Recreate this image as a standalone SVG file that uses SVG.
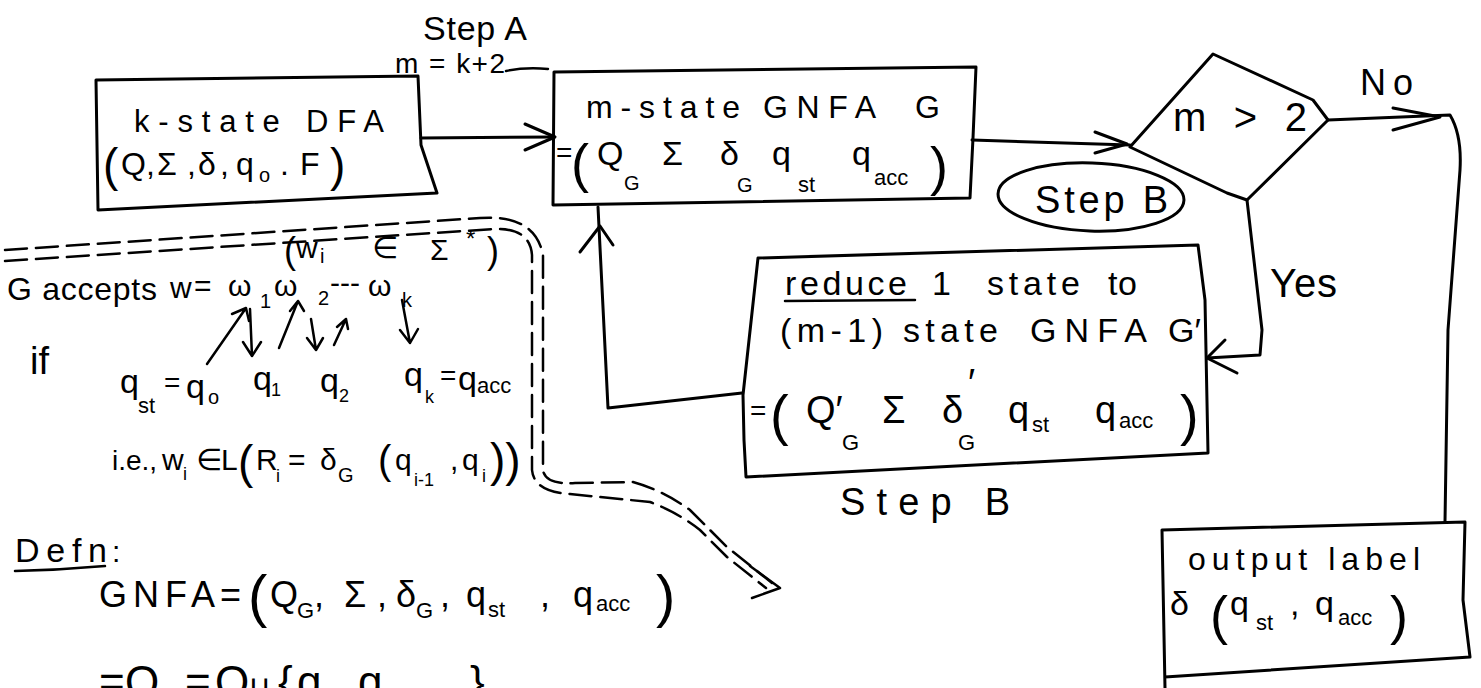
<svg xmlns="http://www.w3.org/2000/svg" width="1481" height="688" viewBox="0 0 1481 688">
<style>
.t{font-family:"Liberation Sans","DejaVu Sans",Arial,sans-serif;fill:#000}
.ln{fill:none;stroke:#000;stroke-width:3;stroke-linecap:round;stroke-linejoin:round}
.th{fill:none;stroke:#000;stroke-width:2.5;stroke-linecap:round;stroke-linejoin:round}
.dash{fill:none;stroke:#000;stroke-width:2.5;stroke-dasharray:22 9;stroke-linecap:round}
</style>
<rect width="1481" height="688" fill="#fff"/>

<g id="dfa">
<path class="ln" d="M96,80 L418,76 L421,145 L437,193 L98,210 Z"/>
<text class="t" x="134" y="132" font-size="31" textLength="250" lengthAdjust="spacing">k-state DFA</text>
<text class="t" font-size="32">
<tspan x="103" y="181" font-size="46">(</tspan><tspan x="121" y="175">Q</tspan><tspan x="146" y="175">,</tspan><tspan x="157" y="175">Σ</tspan><tspan x="187" y="175">,</tspan><tspan x="198" y="175">δ</tspan><tspan x="220" y="175">,</tspan><tspan x="236" y="175">q</tspan><tspan x="259" y="182" font-size="20">o</tspan><tspan x="280" y="175">.</tspan><tspan x="300" y="175">F</tspan><tspan x="330" y="181" font-size="46">)</tspan>
</text>
</g>

<g id="gnfa">
<path class="ln" d="M554,72 L976,67 L973,138 L970,198 L553,205 Z"/>
<text class="t" x="586" y="118" font-size="32" textLength="154" lengthAdjust="spacing">m-state</text>
<text class="t" x="763" y="118" font-size="32" textLength="113" lengthAdjust="spacing">GNFA</text>
<text class="t" x="915" y="118" font-size="32">G</text>
<text class="t" font-size="34">
<tspan x="556" y="162" font-size="28">=</tspan><tspan x="571" y="182" font-size="54">(</tspan><tspan x="597" y="165">Q</tspan><tspan x="624" y="190" font-size="20">G</tspan><tspan x="662" y="165">Σ</tspan><tspan x="720" y="165">δ</tspan><tspan x="737" y="192" font-size="20">G</tspan><tspan x="772" y="165">q</tspan><tspan x="798" y="192" font-size="22">st</tspan><tspan x="852" y="165">q</tspan><tspan x="874" y="185" font-size="22">acc</tspan><tspan x="930" y="185" font-size="54">)</tspan>
</text>
</g>

<g id="decision">
<path class="ln" d="M1130,147 L1213,54 L1313,100 L1328,120 L1247,200 L1227,193 Z"/>
<text class="t" x="1173" y="131" font-size="40" textLength="134" lengthAdjust="spacing">m&gt;2</text>
</g>

<g id="stepB-oval">
<ellipse class="ln" cx="1091" cy="197" rx="93" ry="34" transform="rotate(2 1091 197)"/>
<text class="t" x="1035" y="213" font-size="38" textLength="133" lengthAdjust="spacing">Step B</text>
</g>

<g id="reduce">
<path class="ln" d="M758,258 L1198,245 L1205,300 L1208,453 L746,477 L744,440 L743,395 Z"/>
<text class="t" x="785" y="295" font-size="34" textLength="122" lengthAdjust="spacing">reduce</text>
<path class="th" d="M785,301 L915,300"/>
<text class="t" x="932" y="295" font-size="34">1</text>
<text class="t" x="987" y="295" font-size="34" textLength="93" lengthAdjust="spacing">state</text>
<text class="t" x="1108" y="295" font-size="34" textLength="29" lengthAdjust="spacing">to</text>
<text class="t" x="780" y="342" font-size="34" textLength="103" lengthAdjust="spacing">(m-1)</text>
<text class="t" x="903" y="342" font-size="34" textLength="95" lengthAdjust="spacing">state</text>
<text class="t" x="1030" y="342" font-size="34" textLength="117" lengthAdjust="spacing">GNFA</text>
<text class="t" x="1168" y="342" font-size="34">G′</text>
<text class="t" font-size="38">
<tspan x="750" y="420" font-size="28">=</tspan><tspan x="770" y="434" font-size="56">(</tspan><tspan x="806" y="423">Q′</tspan><tspan x="842" y="450" font-size="22">G</tspan><tspan x="882" y="423">Σ</tspan><tspan x="942" y="423">δ</tspan><tspan x="968" y="396">′</tspan><tspan x="958" y="450" font-size="22">G</tspan><tspan x="1008" y="423">q</tspan><tspan x="1032" y="432" font-size="22">st</tspan><tspan x="1095" y="423">q</tspan><tspan x="1119" y="428" font-size="22">acc</tspan><tspan x="1180" y="434" font-size="56">)</tspan>
</text>
</g>

<g id="output">
<path class="ln" d="M1165,688 L1162,530 L1465,522 L1463,600 L1470,657 L1165,677"/>
<text class="t" x="1188" y="570" font-size="32" textLength="232" lengthAdjust="spacing">output label</text>
<text class="t" font-size="34">
<tspan x="1170" y="615">δ</tspan><tspan x="1210" y="634" font-size="54">(</tspan><tspan x="1230" y="615">q</tspan><tspan x="1256" y="630" font-size="22">st</tspan><tspan x="1290" y="615">,</tspan><tspan x="1315" y="615">q</tspan><tspan x="1338" y="625" font-size="22">acc</tspan><tspan x="1390" y="634" font-size="54">)</tspan>
</text>
</g>

<g id="connectors">
<path class="ln" d="M421,138 L554,137"/>
<path class="ln" d="M525,124 L555,137 L525,150"/>
<path class="ln" d="M972,140 L1130,145"/>
<path class="ln" d="M1095,132 L1127,144 L1095,153"/>
<path class="ln" d="M1328,120 L1450,115 Q1462,135 1460,170 L1448,330 L1445,522"/>
<path class="ln" d="M1393,108 L1440,117 L1393,130"/>
<path class="ln" d="M1247,200 L1262,330 L1260,355 L1207,358"/>
<path class="ln" d="M1225,340 L1207,358 L1237,373"/>
<path class="ln" d="M742,393 L608,408 L598,207"/>
<path class="ln" d="M580,252 L600,226 L613,245"/>
</g>

<g id="labels">
<text class="t" x="423" y="40" font-size="34" textLength="104" lengthAdjust="spacing">Step A</text>
<text class="t" x="395" y="73" font-size="28" textLength="110" lengthAdjust="spacing">m = k+2</text>
<path class="th" d="M506,71 Q525,67 548,69"/>
<text class="t" x="1360" y="95" font-size="36" textLength="53" lengthAdjust="spacing">No</text>
<text class="t" x="1270" y="297" font-size="40" textLength="67" lengthAdjust="spacing">Yes</text>
<text class="t" x="840" y="515" font-size="38" textLength="170" lengthAdjust="spacing">Step B</text>
</g>

<g id="annotation">
<path class="dash" d="M5,250 L480,218 Q535,214 543,255 L543,470 Q545,485 575,483 L633,482 Q662,490 690,510 L727,547 L772,583"/>
<path class="dash" d="M5,261 L495,229 Q530,228 532,255 L532,470 Q534,492 570,494 L650,502 Q677,512 700,530 L727,557 L766,588"/>
<path class="th" d="M750,566 L780,588 L752,598"/>
<text class="t" font-size="30">
<tspan x="284" y="263" font-size="36">(</tspan><tspan x="296" y="258">w</tspan><tspan x="320" y="263" font-size="20">i</tspan><tspan x="372" y="258">∈</tspan><tspan x="430" y="260">Σ</tspan><tspan x="466" y="247" font-size="24">*</tspan><tspan x="487" y="263" font-size="36">)</tspan>
</text>
<text class="t" x="7" y="300" font-size="32" textLength="150" lengthAdjust="spacing">G accepts</text>
<text class="t" font-size="30">
<tspan x="170" y="298">w</tspan><tspan x="194" y="296">=</tspan><tspan x="228" y="296">ω</tspan><tspan x="260" y="308" font-size="20">1</tspan><tspan x="274" y="296">ω</tspan><tspan x="318" y="305" font-size="20">2</tspan><tspan x="330" y="293">---</tspan><tspan x="368" y="296">ω</tspan><tspan x="402" y="307" font-size="20">k</tspan>
</text>
<text class="t" x="30" y="374" font-size="38">if</text>
<text class="t" font-size="34">
<tspan x="120" y="393">q</tspan><tspan x="138" y="413" font-size="22">st</tspan><tspan x="164" y="392" font-size="28">=</tspan><tspan x="186" y="398">q</tspan><tspan x="208" y="404" font-size="20">o</tspan>
<tspan x="253" y="390">q</tspan><tspan x="271" y="396" font-size="18">1</tspan>
<tspan x="320" y="392">q</tspan><tspan x="339" y="402" font-size="18">2</tspan>
<tspan x="404" y="386">q</tspan><tspan x="425" y="403" font-size="18">k</tspan><tspan x="440" y="385" font-size="28">=</tspan><tspan x="458" y="390">q</tspan><tspan x="477" y="393" font-size="22">acc</tspan>
</text>
<path class="th" d="M207,364 L246,308 M232,314 L246,308 L249,321"/>
<path class="th" d="M250,309 L252,356 M243,342 L252,356 L261,342"/>
<path class="th" d="M279,348 L298,301 M290,311 L298,301 L304,311"/>
<path class="th" d="M311,319 L316,350 M307,338 L316,350 L323,338"/>
<path class="th" d="M334,345 L346,319 M337,327 L346,319 L348,329"/>
<path class="th" d="M402,300 L410,343 M400,330 L410,343 L418,329"/>
<text class="t" font-size="30">
<tspan x="112" y="470" font-size="28">i.e.,</tspan><tspan x="162" y="470">w</tspan><tspan x="183" y="480" font-size="18">i</tspan><tspan x="196" y="470">∈</tspan><tspan x="221" y="470">L</tspan><tspan x="238" y="478" font-size="46">(</tspan><tspan x="256" y="470">R</tspan><tspan x="276" y="482" font-size="18">i</tspan><tspan x="288" y="470">=</tspan><tspan x="320" y="470">δ</tspan><tspan x="338" y="482" font-size="20">G</tspan><tspan x="378" y="474" font-size="40">(</tspan><tspan x="395" y="470">q</tspan><tspan x="414" y="486" font-size="18">i-1</tspan><tspan x="450" y="470">,</tspan><tspan x="462" y="470">q</tspan><tspan x="482" y="482" font-size="18">i</tspan><tspan x="490" y="476" font-size="46">))</tspan>
</text>
</g>

<g id="definition">
<text class="t" x="15" y="562" font-size="34" textLength="92" lengthAdjust="spacing">Defn</text>
<text class="t" x="112" y="562" font-size="30">:</text>
<path class="th" d="M15,571 Q60,570 105,566"/>
<text class="t" font-size="36">
<tspan x="99" y="607" textLength="116" lengthAdjust="spacing">GNFA</tspan><tspan x="220" y="607">=</tspan><tspan x="248" y="616" font-size="58">(</tspan><tspan x="270" y="607">Q</tspan><tspan x="297" y="618" font-size="22">G</tspan><tspan x="314" y="607">,</tspan><tspan x="344" y="607">Σ</tspan><tspan x="377" y="607">,</tspan><tspan x="396" y="607">δ</tspan><tspan x="416" y="618" font-size="22">G</tspan><tspan x="440" y="607">,</tspan><tspan x="466" y="607">q</tspan><tspan x="488" y="617" font-size="22">st</tspan><tspan x="540" y="607">,</tspan><tspan x="573" y="607">q</tspan><tspan x="596" y="611" font-size="22">acc</tspan><tspan x="656" y="616" font-size="58">)</tspan>
</text>
<text class="t" font-size="44">
<tspan x="99" y="697">=</tspan><tspan x="125" y="697">Q</tspan><tspan x="185" y="697">=</tspan><tspan x="215" y="697">Q</tspan><tspan x="248" y="697" font-size="32">∪</tspan><tspan x="278" y="697">{</tspan><tspan x="297" y="697">q</tspan><tspan x="340" y="697">,</tspan><tspan x="358" y="697">q</tspan><tspan x="470" y="697">}</tspan>
</text>
</g>
</svg>
